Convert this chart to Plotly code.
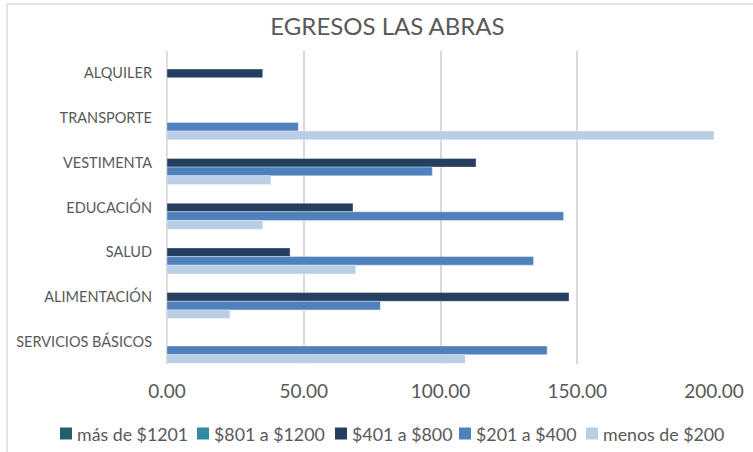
import plotly.graph_objects as go

categories = ["ALQUILER", "TRANSPORTE", "VESTIMENTA", "EDUCACIÓN", "SALUD", "ALIMENTACIÓN", "SERVICIOS BÁSICOS"]
series_names = ["más de $1201", "$801 a $1200", "$401 a $800", "$201 a $400", "menos de $200"]
mas_1201 = [0, 0, 0, 0, 0, 0, 0]
de_801_1200 = [0, 0, 0, 0, 0, 0, 0]
de_401_800 = [35, 0, 113, 68, 45, 147, 0]
de_201_400 = [0, 48, 97, 145, 134, 78, 139]
menos_200 = [0, 200, 38, 35, 69, 23, 109]
colors = ["#255E6B", "#2E8BA0", "#243F60", "#4F81BD", "#B9CDE5"]
x_ticks = [0, 50, 100, 150, 200]
x_tick_labels = ["0.00", "50.00", "100.00", "150.00", "200.00"]

FONT = "Lato, 'Liberation Sans', sans-serif"
fig = go.Figure()
for name, vals, col in zip(series_names, [mas_1201, de_801_1200, de_401_800, de_201_400, menos_200], colors):
    fig.add_trace(go.Bar(
        y=categories, x=vals, name=name, orientation="h", showlegend=False,
        marker=dict(color=col, line=dict(color="rgba(255,255,255,0.6)", width=0.6)),
    ))

W, H = 753, 452
L, R, T, B = 167, 714, 51, 364
pw, ph = R - L, B - T
def px(x): return (x - L) / pw
def py(y): return (B - y) / ph

# legend layout (pixel positions of the swatches)
legend_x = [60, 197, 335, 459, 586]
legend_y = 433.5
sw = 12

shapes = [
    dict(type="line", xref="paper", yref="paper", x0=px(7), x1=px(760), y0=py(4), y1=py(4),
         line=dict(color="#D9D9D9", width=1.5)),
    dict(type="line", xref="paper", yref="paper", x0=px(7), x1=px(7), y0=py(4), y1=py(460),
         line=dict(color="#D9D9D9", width=1.5)),
]
annotations = []
for name, col, lx in zip(series_names, colors, legend_x):
    shapes.append(dict(type="rect", xref="paper", yref="paper", x0=px(lx), x1=px(lx + sw),
                       y0=py(legend_y - sw / 2), y1=py(legend_y + sw / 2),
                       fillcolor=col, line=dict(width=0)))
    annotations.append(dict(text=name, xref="paper", yref="paper", x=px(lx + sw + 3), y=py(legend_y),
                            xanchor="left", yanchor="middle", showarrow=False,
                            font=dict(family=FONT, size=17.8, color="#595959")))

fig.update_layout(
    width=W, height=H,
    margin=dict(l=L, r=W - R, t=T, b=H - B, autoexpand=False),
    paper_bgcolor="white", plot_bgcolor="white",
    barmode="group", bargap=0.03, bargroupgap=0,
    title=dict(text="EGRESOS LAS ABRAS", x=387.5 / W, xanchor="center", y=1 - 27 / H, yanchor="middle",
               font=dict(family=FONT, size=24, color="#595959")),
    font=dict(family=FONT, color="#595959"),
    xaxis=dict(range=[0, 200], tickvals=x_ticks, ticktext=x_tick_labels, showgrid=True,
               gridcolor="#D9D9D9", gridwidth=1.5, zeroline=True, zerolinecolor="#D9D9D9", zerolinewidth=1.5,
               tickfont=dict(size=19, color="#595959"), ticks="", showline=False, fixedrange=True,
               automargin=False, ticklabelstandoff=14),
    yaxis=dict(autorange="reversed", showgrid=False, ticks="", showline=False, automargin=False,
               tickfont=dict(size=14.5, color="#595959"), ticklabelstandoff=14, fixedrange=True),
    showlegend=False,
    shapes=shapes,
    annotations=annotations,
)
fig.write_html("out.html", config={"displayModeBar": False},
               post_script="document.body.style.margin='0';document.body.style.overflow='hidden';")
